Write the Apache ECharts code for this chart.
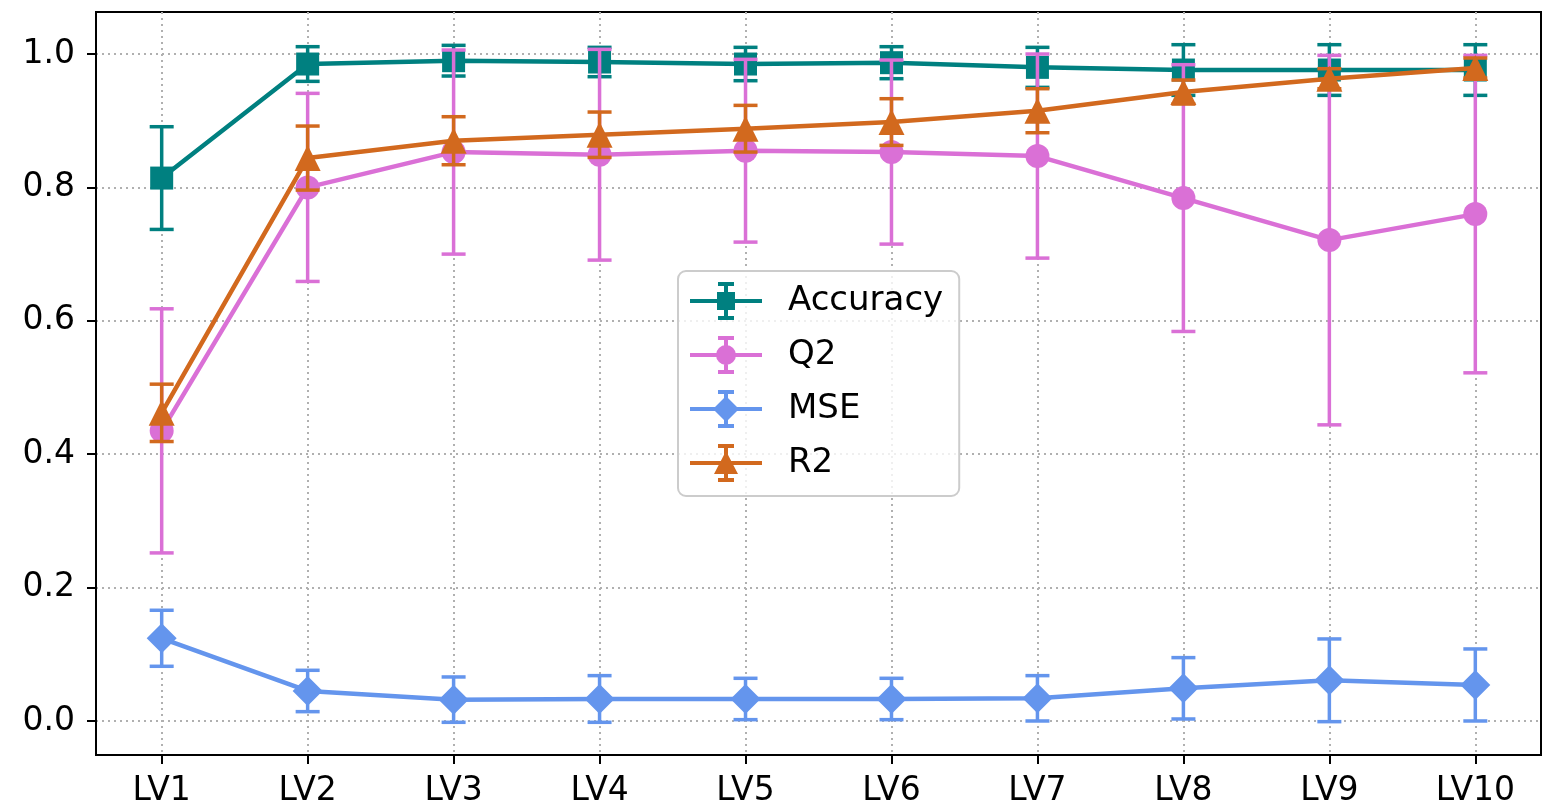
<!DOCTYPE html>
<html>
<head>
<meta charset="utf-8">
<script src="https://cdn.jsdelivr.net/npm/echarts@6/dist/echarts.min.js"></script>
<style>
  html, body { margin: 0; padding: 0; background: #fff; }
  #chart { width: 1554px; height: 806px; }
</style>
</head>
<body>
<div id="chart"></div>
<script>
var categories = ['LV1', 'LV2', 'LV3', 'LV4', 'LV5', 'LV6', 'LV7', 'LV8', 'LV9', 'LV10'];
var xTicks = [1, 2, 3, 4, 5, 6, 7, 8, 9, 10];
var yTicks = [0, 0.2, 0.4, 0.6, 0.8, 1.0];

var accuracyMean = [0.814, 0.985, 0.990, 0.988, 0.985, 0.987, 0.980, 0.976, 0.976, 0.976];
var accuracyErr  = [0.077, 0.026, 0.023, 0.022, 0.025, 0.024, 0.030, 0.038, 0.038, 0.038];
var q2Mean = [0.435, 0.800, 0.853, 0.849, 0.855, 0.853, 0.847, 0.784, 0.721, 0.760];
var q2Err  = [0.183, 0.141, 0.153, 0.158, 0.137, 0.138, 0.153, 0.200, 0.277, 0.238];
var mseMean = [0.124, 0.045, 0.032, 0.033, 0.033, 0.033, 0.034, 0.049, 0.061, 0.054];
var mseErr  = [0.042, 0.031, 0.034, 0.035, 0.031, 0.031, 0.034, 0.046, 0.062, 0.054];
var r2Mean = [0.462, 0.844, 0.870, 0.879, 0.888, 0.898, 0.915, 0.943, 0.963, 0.979];
var r2Err  = [0.043, 0.048, 0.036, 0.034, 0.035, 0.035, 0.033, 0.018, 0.015, 0.015];

var font = 'DejaVu Sans';

// legend glyphs: line + error bar + marker, in a 72x38 box
var bar = 'M0 17 H72 V21 H0 Z M34 2 H38 V36 H34 Z M28 0 H44 V4 H28 Z M28 34 H44 V38 H28 Z ';
var icons = {
    rect: 'path://' + bar + 'M27 10 H45 V28 H27 Z',
    circle: 'path://' + bar + 'M26 19 A10 10 0 1 1 46 19 A10 10 0 1 1 26 19 Z',
    diamond: 'path://' + bar + 'M36 6 L49 19 L36 32 L23 19 Z',
    triangle: 'path://' + bar + 'M36 7 L48 30 L24 30 Z'
};

function points(mean) {
    return mean.map(function (v, i) { return [i + 1, v]; });
}
function bars(mean, err) {
    return mean.map(function (v, i) { return [i + 1, v - err[i], v + err[i]]; });
}

function errSeries(name, mean, err, color, z) {
    return {
        name: name + ' err',
        type: 'custom',
        z: z,
        silent: true,
        data: bars(mean, err),
        renderItem: function (params, api) {
            var top = api.coord([api.value(0), api.value(2)]);
            var bot = api.coord([api.value(0), api.value(1)]);
            var style = { stroke: color, lineWidth: 3.5 };
            return {
                type: 'group',
                children: [
                    { type: 'line', shape: { x1: top[0], y1: top[1], x2: bot[0], y2: bot[1] }, style: style },
                    { type: 'line', shape: { x1: top[0] - 12, y1: top[1], x2: top[0] + 12, y2: top[1] }, style: style },
                    { type: 'line', shape: { x1: bot[0] - 12, y1: bot[1], x2: bot[0] + 12, y2: bot[1] }, style: style }
                ]
            };
        }
    };
}

function lineSeries(name, mean, color, symbol, size, z) {
    return {
        name: name,
        type: 'line',
        z: z,
        data: points(mean),
        symbol: symbol,
        symbolSize: size,
        showAllSymbol: true,
        lineStyle: { color: color, width: 4.5 },
        itemStyle: { color: color },
        emphasis: { disabled: true },
        animation: false
    };
}

var colors = { acc: '#008080', q2: '#da70d6', mse: '#6495ed', r2: '#d2691e' };

var option = {
    animation: false,
    grid: {
        left: 96, right: 13, top: 12, bottom: 51,
        outerBoundsMode: 'none',
        show: true, borderColor: '#000', borderWidth: 2
    },
    xAxis: {
        type: 'value',
        min: 0.55,
        max: 10.45,
        axisLine: { show: true, onZero: false, lineStyle: { color: '#000', width: 2 } },
        axisTick: { show: true, customValues: xTicks, length: 9, lineStyle: { color: '#000', width: 2 } },
        axisLabel: {
            customValues: xTicks, margin: 20, color: '#000', fontSize: 33, fontFamily: font,
            formatter: function (v) { return categories[Math.round(v) - 1]; }
        },
        splitLine: { show: true, lineStyle: { color: '#b0b0b0', width: 2, type: [2, 4] } }
    },
    yAxis: {
        type: 'value',
        min: -0.051,
        max: 1.063,
        axisLine: { show: true, onZero: false, lineStyle: { color: '#000', width: 2 } },
        axisTick: { show: true, customValues: yTicks, length: 9, lineStyle: { color: '#000', width: 2 } },
        axisLabel: {
            customValues: yTicks, margin: 21, color: '#000', fontSize: 33, fontFamily: font,
            formatter: function (v) { return v.toFixed(1); }
        },
        splitLine: { show: true, lineStyle: { color: '#b0b0b0', width: 2, type: [2, 4] } }
    },
    legend: {
        orient: 'vertical',
        left: 678,
        top: 271,
        itemWidth: 72,
        itemHeight: 38,
        itemGap: 16,
        padding: [11, 16, 14, 12],
        backgroundColor: 'rgba(255,255,255,0.8)',
        borderColor: '#cccccc',
        borderWidth: 2,
        borderRadius: 8,
        textStyle: { fontSize: 34, fontFamily: font, color: '#000', padding: [0, 0, 0, 21] },
        data: [
            { name: 'Accuracy', icon: icons.rect },
            { name: 'Q2', icon: icons.circle },
            { name: 'MSE', icon: icons.diamond },
            { name: 'R2', icon: icons.triangle }
        ]
    },
    series: [
        errSeries('Accuracy', accuracyMean, accuracyErr, colors.acc, 2),
        lineSeries('Accuracy', accuracyMean, colors.acc, 'rect', 23, 2),
        errSeries('Q2', q2Mean, q2Err, colors.q2, 3),
        lineSeries('Q2', q2Mean, colors.q2, 'circle', 24, 3),
        errSeries('MSE', mseMean, mseErr, colors.mse, 4),
        lineSeries('MSE', mseMean, colors.mse, 'diamond', 30, 4),
        errSeries('R2', r2Mean, r2Err, colors.r2, 5),
        lineSeries('R2', r2Mean, colors.r2, 'triangle', 26, 5)
    ]
};

var chart = echarts.init(document.getElementById('chart'));
chart.setOption(option);
</script>
</body>
</html>
